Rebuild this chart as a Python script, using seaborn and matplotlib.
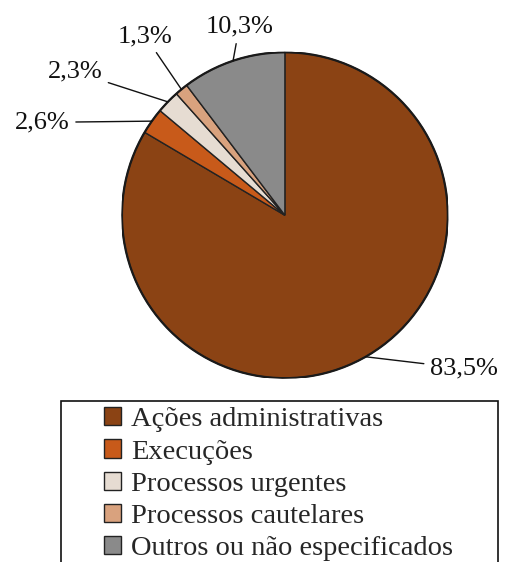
import numpy as np
import matplotlib
matplotlib.use('Agg')
import matplotlib.pyplot as plt
from matplotlib.patches import Rectangle
import seaborn as sns

# data
categories = ['Ações administrativas', 'Execuções', 'Processos urgentes',
              'Processos cautelares', 'Outros ou não especificados']
shares = [83.5, 2.6, 2.3, 1.3, 10.3]
pct_labels = ['83,5%', '2,6%', '2,3%', '1,3%', '10,3%']
colors = ['#8B4314', '#C85A1A', '#E6DCD2', '#D9A27E', '#8A8A8A']

sns.set_theme(style='white')
plt.rcParams['font.family'] = ['Liberation Serif', 'DejaVu Serif']

fig = plt.figure(figsize=(5.06, 5.62), dpi=100)
# square axes for the pie (radius 1 in data units)
ax = fig.add_axes([0.241, 0.327, 0.644, 0.580])

wedges, _ = ax.pie(shares, colors=colors, startangle=90, counterclock=False,
                   radius=1.0,
                   wedgeprops=dict(edgecolor='#222222', linewidth=1.0))
ax.set_xlim(-1, 1)
ax.set_ylim(-1, 1)
ax.set_aspect('equal')
ax.axis('off')

# outer rim
rim = plt.Circle((0, 0), 1.0, fill=False, edgecolor='#1a1a1a', linewidth=1.6)
ax.add_patch(rim)

# label positions (text anchor, alignment) for each slice
label_pos = [(0.89, -0.94, 'left', 'center'),
             (-1.32, 0.57, 'right', 'center'),
             (-1.12, 0.88, 'right', 'center'),
             (-0.69, 1.10, 'right', 'center'),
             (-0.28, 1.09, 'center', 'bottom')]

for w, lab, (tx, ty, ha, va) in zip(wedges, pct_labels, label_pos):
    ang = np.deg2rad((w.theta1 + w.theta2) / 2)
    px, py = np.cos(ang), np.sin(ang)
    ax.annotate(lab, xy=(px, py), xytext=(tx, ty), ha=ha, va=va,
                fontsize=19, color='#111111', annotation_clip=False,
                arrowprops=dict(arrowstyle='-', color='#111111', lw=1.0,
                                shrinkA=2, shrinkB=0))

# legend box
fig.patches.append(Rectangle((61 / 506, -0.05), (498 - 61) / 506,
                             1 - 401 / 562 + 0.05, transform=fig.transFigure,
                             fill=False, edgecolor='#111111', linewidth=1.2))

fig.legend(wedges, categories, loc='upper left',
           bbox_to_anchor=(100 / 506, 1 - 403 / 562), frameon=False,
           fontsize=20.5, handlelength=0.6, handleheight=0.6,
           handletextpad=0.35, labelspacing=0.25, borderpad=0.15,
           borderaxespad=0)

fig.savefig('out.png', dpi=100)
